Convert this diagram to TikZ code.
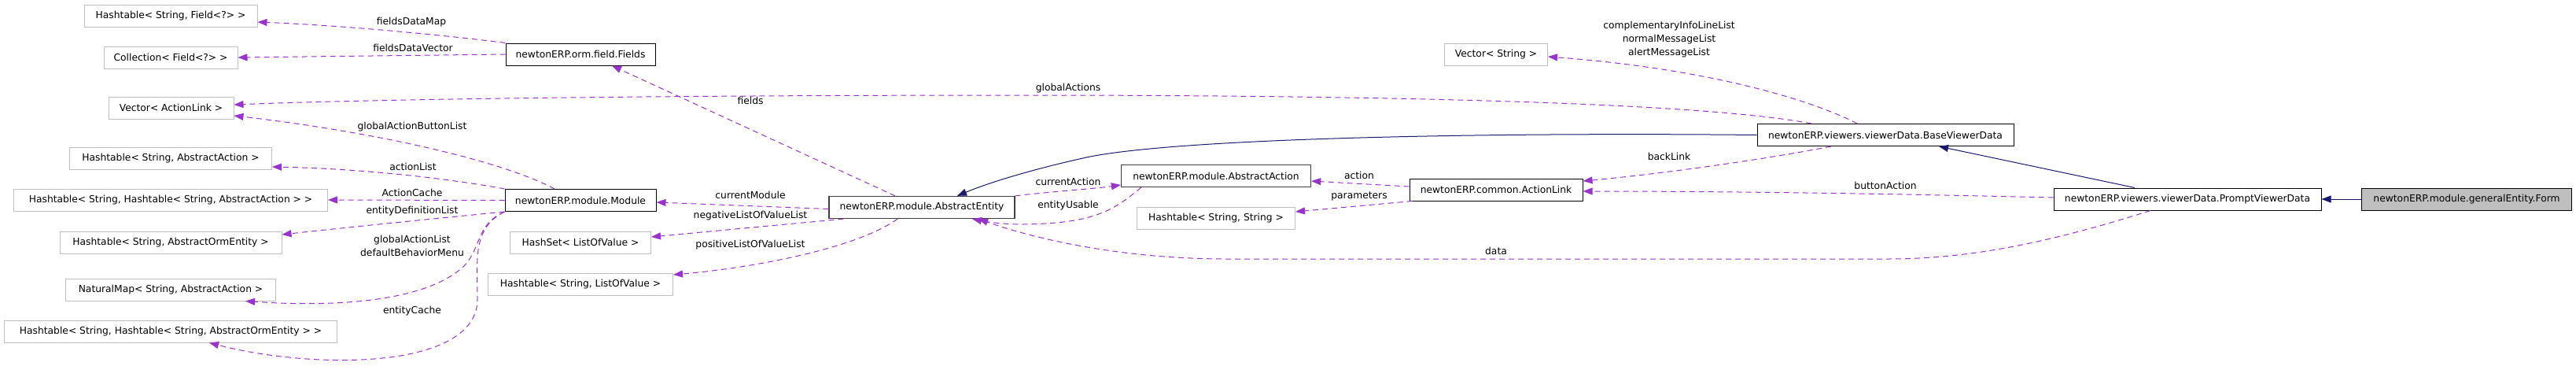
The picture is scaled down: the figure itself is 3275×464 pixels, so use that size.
\documentclass[tikz,border=0pt]{standalone}
\usepackage{fontspec}
\setmainfont{DejaVu Sans}
\usetikzlibrary{arrows.meta}
\definecolor{purp}{HTML}{9A32CD}
\definecolor{navyline}{HTML}{191970}
\definecolor{extgray}{HTML}{BFBFBF}
\definecolor{darkb}{HTML}{404040}
\begin{document}
\begin{tikzpicture}[x=1pt,y=-1pt,
  every node/.style={font=\fontsize{12.3}{17}\selectfont, inner sep=0pt},
  box/.style={rectangle, draw, line width=1pt, minimum height=28pt, anchor=center},
  extbox/.style={box, draw=extgray},
  clsbox/.style={box, draw=black},
  dkbox/.style={box, draw=darkb, line width=1.3pt},
  formbox/.style={box, draw=black, fill=extgray},
  dep/.style={draw=purp, line width=1pt, dash pattern=on 7pt off 5pt, -{Triangle[length=12pt,width=9pt,fill=purp]}},
  inh/.style={draw=navyline, line width=1pt, -{Triangle[length=12pt,width=9pt,fill=navyline]}},
  lbl/.style={align=center, anchor=center}
]
\useasboundingbox (0,0) rectangle (3275,464);

% left column
\node[extbox, minimum width=220pt] (hsf) at (217,20) {Hashtable< String, Field<?> >};
\node[extbox, minimum width=170pt] (cf) at (217,73) {Collection< Field<?> >};
\node[extbox, minimum width=159pt] (val) at (217.5,137) {Vector< ActionLink >};
\node[extbox, minimum width=257pt] (hsaa) at (217,201) {Hashtable< String, AbstractAction >};
\node[extbox, minimum width=399pt] (hshaa) at (217,254) {Hashtable< String, Hashtable< String, AbstractAction > >};
\node[extbox, minimum width=282pt] (hsaoe) at (217,308) {Hashtable< String, AbstractOrmEntity >};
\node[extbox, minimum width=267pt] (nm) at (217,368) {NaturalMap< String, AbstractAction >};
\node[extbox, minimum width=423pt] (hshaoe) at (217,421) {Hashtable< String, Hashtable< String, AbstractOrmEntity > >};

% second column
\node[clsbox, minimum width=190pt] (fields) at (738,69) {newtonERP.orm.field.Fields};
\node[clsbox, minimum width=192pt] (module) at (738,254.5) {newtonERP.module.Module};
\node[extbox, minimum width=179pt] (hsl) at (738,308) {HashSet< ListOfValue >};
\node[extbox, minimum width=235pt] (hslv) at (738,361) {Hashtable< String, ListOfValue >};

% third column
\node[dkbox, minimum width=236pt] (ae) at (1172,263.5) {newtonERP.module.AbstractEntity};

% fourth column
\node[dkbox, minimum width=241pt] (aa) at (1546,223.5) {newtonERP.module.AbstractAction};
\node[extbox, minimum width=201pt] (hss) at (1546,277) {Hashtable< String, String >};

% fifth column
\node[clsbox, minimum width=220pt] (al) at (1902,241) {newtonERP.common.ActionLink};
\node[extbox, minimum width=131pt] (vs) at (1902,69) {Vector< String >};

% right part
\node[clsbox, minimum width=326pt] (bvd) at (2397,171.5) {newtonERP.viewers.viewerData.BaseViewerData};
\node[clsbox, minimum width=340pt] (pvd) at (2781,253) {newtonERP.viewers.viewerData.PromptViewerData};
\node[formbox, minimum width=267pt] (form) at (3136,253) {newtonERP.module.generalEntity.Form};

% ---- connectors ----
\draw[dep] (fields.north west) .. controls (560,44) and (430,32) .. ([yshift=-8pt]hsf.east);
\draw[dep] (fields.west) -- (cf.east);
\draw[dep] ([xshift=-94pt]bvd.north) .. controls (2150,128) and (1700,121) .. (1300,121) .. controls (900,121) and (500,125) .. ([yshift=4pt]val.east);
\draw[dep] ([xshift=-33pt]module.north) .. controls (640,205) and (480,168) .. ([yshift=-10pt]val.east);
\draw[dep] (module.north west) .. controls (560,225) and (450,214) .. ([yshift=-11pt]hsaa.east);
\draw[dep] (module.west) -- (hshaa.east);
\draw[dep] (module.south west) .. controls (560,277) and (440,289) .. ([yshift=10pt]hsaoe.east);
\draw[dep] (module.south west) .. controls (605,285) and (612,315) .. (590,338) .. controls (540,385) and (420,390) .. ([xshift=95pt]nm.south);
\draw[dep] (module.south west) .. controls (600,290) and (607,330) .. (607,380) .. controls (607,470) and (400,470) .. ([xshift=49pt]hshaoe.south);

\draw[dep] ([xshift=-34pt]ae.north) -- ([xshift=40pt]fields.south);
\draw[dep] ([yshift=-2pt]ae.west) -- ([yshift=-2.5pt]module.east);
\draw[dep] ([xshift=19pt]ae.south west) -- ([yshift=7pt]hsl.east);
\draw[dep] ([xshift=-31pt]ae.south) .. controls (1090,315) and (960,340) .. ([yshift=12pt]hslv.east);

\draw[inh] (bvd.west) .. controls (1900,168) and (1500,175) .. (1381,200) .. controls (1300,218) and (1250,235) .. ([xshift=45pt]ae.north);
\draw[dep] (ae.north east) .. controls (1340,243) and (1390,240) .. ([yshift=-11.5pt]aa.west);
\draw[dep] ([xshift=26pt]aa.south west) .. controls (1415,268) and (1390,284) .. (1300,285) .. controls (1275,285) and (1255,282) .. ([xshift=64pt]ae.south);
\draw[dep] ([xshift=-47pt]pvd.south) .. controls (2600,310) and (2500,329) .. (2400,329) -- (1560,329) .. controls (1430,329) and (1320,305) .. ([xshift=72pt]ae.south);

\draw[dep] ([yshift=4pt]al.west) -- ([yshift=-6.5pt]aa.east);
\draw[dep] ([xshift=4pt]al.south west) -- ([yshift=8pt]hss.east);

\draw[dep] ([xshift=-36pt]bvd.north) .. controls (2310,130) and (2180,88) .. ([yshift=-3pt]vs.east);
\draw[dep] ([xshift=-69pt]bvd.south) .. controls (2230,205) and (2100,222) .. ([yshift=11pt]al.east);
\draw[dep] ([yshift=2pt]pvd.west) .. controls (2400,246) and (2200,243) .. ([yshift=-2pt]al.east);
\draw[inh] ([xshift=-67pt]pvd.north) -- ([xshift=68pt]bvd.south);
\draw[inh] (form.west) -- (pvd.east);

% ---- labels ----
\node[lbl] (l1) at (523,28) {fieldsDataMap};
\node[lbl] (l2) at (525,61) {fieldsDataVector};
\node[lbl] (l3) at (524,161) {globalActionButtonList};
\node[lbl] (l4) at (525,212) {actionList};
\node[lbl] (l5) at (524,245) {ActionCache};
\node[lbl] (l6) at (524,268) {entityDefinitionList};
\node[lbl] (l7) at (524,312.5) {globalActionList\\defaultBehaviorMenu};
\node[lbl] (l8) at (524,395) {entityCache};
\node[lbl] (l9) at (954,128) {fields};
\node[lbl] (l10) at (954,248) {currentModule};
\node[lbl] (l11) at (954,274) {negativeListOfValueList};
\node[lbl] (l12) at (954,311) {positiveListOfValueList};
\node[lbl] (l13) at (1358,112) {globalActions};
\node[lbl] (l14) at (1358,231) {currentAction};
\node[lbl] (l15) at (1358,261) {entityUsable};
\node[lbl] (l16) at (1728,223) {action};
\node[lbl] (l17) at (1728,249) {parameters};
\node[lbl] (l18) at (1902,319) {data};
\node[lbl] (l19) at (2122,50) {complementaryInfoLineList\\normalMessageList\\alertMessageList};
\node[lbl] (l20) at (2122,199) {backLink};
\node[lbl] (l21) at (2397,236) {buttonAction};
\end{tikzpicture}
\end{document}
